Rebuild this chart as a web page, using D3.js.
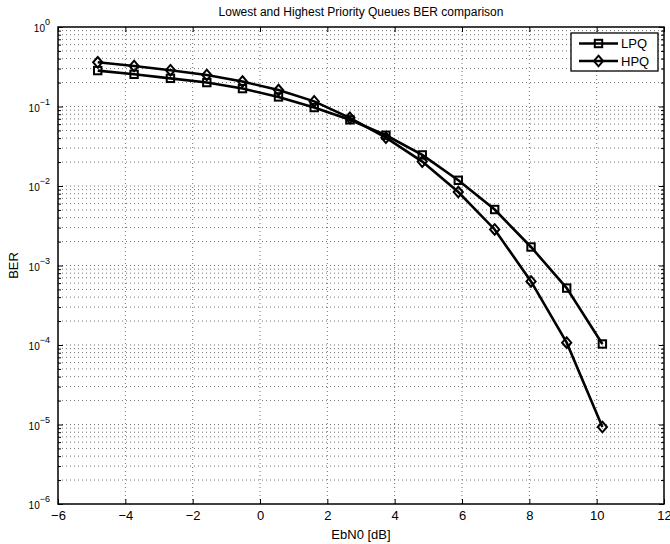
<!DOCTYPE html>
<html>
<head>
<meta charset="utf-8">
<script src="https://cdn.jsdelivr.net/npm/d3@7"></script>
<style>
  body { margin: 0; background: #fff; }
  svg { display: block; font-family: "Liberation Sans", Arial, sans-serif; }
</style>
</head>
<body>
<svg id="chart" width="670" height="544"></svg>
<script>
// EbN0 values (dB)
const ebn0 = [-4.82, -3.74, -2.66, -1.58, -0.52, 0.55, 1.61, 2.67, 3.74, 4.82, 5.89, 6.97, 8.05, 9.11, 10.17];
// BER of the lowest priority queue (squares)
const lpq = [0.283, 0.254, 0.226, 0.200, 0.168, 0.132, 0.097, 0.068, 0.0435, 0.0246, 0.0118, 0.00506, 0.00171, 5.2e-4, 1.03e-4];
// BER of the highest priority queue (diamonds)
const hpq = [0.360, 0.323, 0.286, 0.249, 0.206, 0.161, 0.116, 0.072, 0.0405, 0.0203, 0.0084, 0.00284, 6.3e-4, 1.07e-4, 9.3e-6];

const seriesNames = ["LPQ", "HPQ"];
const xTicks = [-6, -4, -2, 0, 2, 4, 6, 8, 10, 12];
const yDecades = [-6, -5, -4, -3, -2, -1, 0];

const W = 670, H = 544;
const margin = { top: 27, right: 6, bottom: 40, left: 58 };
const svg = d3.select("#chart");

const x = d3.scaleLinear().domain([-6, 12]).range([margin.left, W - margin.right]);
const y = d3.scaleLog().domain([1e-6, 1]).range([H - margin.bottom, margin.top]);

const minorY = [];
yDecades.slice(0, -1).forEach(e => {
    for (let m = 2; m <= 9; m++) minorY.push(m * Math.pow(10, e));
});
const majorY = yDecades.map(e => Math.pow(10, e));

// grid
const grid = svg.append("g")
    .attr("stroke", "#333")
    .attr("stroke-width", 0.7)
    .attr("stroke-dasharray", "1,3");

grid.selectAll(".gx")
    .data(xTicks.slice(1, -1))
    .join("line")
    .attr("x1", d => x(d)).attr("x2", d => x(d))
    .attr("y1", y(1)).attr("y2", y(1e-6));

grid.selectAll(".gy")
    .data(majorY.slice(1, -1).concat(minorY))
    .join("line")
    .attr("y1", d => y(d)).attr("y2", d => y(d))
    .attr("x1", x(-6)).attr("x2", x(12));

// axes with inside ticks
const axes = svg.append("g").attr("font-size", 13);

const bottom = axes.append("g")
    .attr("transform", `translate(0,${y(1e-6)})`)
    .call(d3.axisBottom(x).tickValues(xTicks).tickSize(-5).tickPadding(7)
        .tickFormat(d => d < 0 ? "\u2212" + Math.abs(d) : d));

axes.append("g")
    .attr("transform", `translate(0,${y(1)})`)
    .call(d3.axisTop(x).tickValues(xTicks).tickSize(-5).tickFormat(""));

const left = axes.append("g")
    .attr("transform", `translate(${x(-6)},0)`)
    .call(d3.axisLeft(y).tickValues(majorY).tickSize(-5).tickPadding(14).tickFormat(""));

axes.append("g")
    .attr("transform", `translate(${x(-6)},0)`)
    .call(d3.axisLeft(y).tickValues(minorY).tickSize(-3).tickFormat(""));

axes.append("g")
    .attr("transform", `translate(${x(12)},0)`)
    .call(d3.axisRight(y).tickValues(majorY).tickSize(-5).tickFormat(""));

axes.append("g")
    .attr("transform", `translate(${x(12)},0)`)
    .call(d3.axisRight(y).tickValues(minorY).tickSize(-3).tickFormat(""));

axes.selectAll(".domain").remove();
axes.selectAll(".tick line").attr("stroke", "#000").attr("stroke-width", 1);
bottom.selectAll("text").attr("fill", "#000").attr("font-size", 13);

// y tick labels as 10^n
left.selectAll(".tick text")
    .attr("fill", "#000")
    .attr("x", -8)
    .attr("dy", "0.45em")
    .each(function (d) {
        const t = d3.select(this);
        const e = Math.round(Math.log10(d));
        t.text("");
        t.append("tspan").text("10");
        t.append("tspan").attr("font-size", 9).attr("dy", "-0.75em")
            .text(e < 0 ? "\u2212" + Math.abs(e) : e);
    })
    .attr("text-anchor", "end");

// axis box
svg.append("rect")
    .attr("x", x(-6)).attr("y", y(1))
    .attr("width", x(12) - x(-6)).attr("height", y(1e-6) - y(1))
    .attr("fill", "none").attr("stroke", "#000").attr("stroke-width", 1.5);

// series
const line = d3.line().x(d => x(d[0])).y(d => y(d[1]));
const lpqPts = ebn0.map((v, i) => [v, lpq[i]]);
const hpqPts = ebn0.map((v, i) => [v, hpq[i]]);

function square(g, cx, cy) {
    g.append("rect").attr("x", cx - 3.7).attr("y", cy - 3.7).attr("width", 7.4).attr("height", 7.4);
}
function diamond(g, cx, cy) {
    g.append("path").attr("d", `M${cx},${cy - 5.3}L${cx + 4.6},${cy}L${cx},${cy + 5.3}L${cx - 4.6},${cy}Z`);
}

const plot = svg.append("g")
    .attr("fill", "none").attr("stroke", "#000");

[[lpqPts, square], [hpqPts, diamond]].forEach(([pts, marker]) => {
    plot.append("path").datum(pts).attr("d", line).attr("stroke-width", 2.6);
    const mg = plot.append("g").attr("stroke-width", 2);
    pts.forEach(p => marker(mg, x(p[0]), y(p[1])));
});

// legend
const lg = svg.append("g").attr("transform", "translate(571,33)");
lg.append("rect").attr("width", 87).attr("height", 38)
    .attr("fill", "#fff").attr("stroke", "#000").attr("stroke-width", 1.3);
[square, diamond].forEach((marker, i) => {
    const cy = 10.5 + i * 17.5;
    lg.append("line").attr("x1", 8).attr("x2", 47).attr("y1", cy).attr("y2", cy)
        .attr("stroke", "#000").attr("stroke-width", 2.6);
    const mg = lg.append("g").attr("fill", "none").attr("stroke", "#000").attr("stroke-width", 2);
    marker(mg, 27.5, cy);
    lg.append("text").attr("x", 50).attr("y", cy + 4.5)
        .attr("font-size", 13).text(seriesNames[i]);
});

// titles
svg.append("text").attr("x", (x(-6) + x(12)) / 2).attr("y", 16)
    .attr("text-anchor", "middle").attr("font-size", 12)
    .text("Lowest and Highest Priority Queues BER comparison");

svg.append("text").attr("x", (x(-6) + x(12)) / 2).attr("y", 539)
    .attr("text-anchor", "middle").attr("font-size", 13)
    .text("EbN0 [dB]");

svg.append("text")
    .attr("transform", `translate(18,${(y(1) + y(1e-6)) / 2}) rotate(-90)`)
    .attr("text-anchor", "middle").attr("font-size", 13)
    .text("BER");
</script>
</body>
</html>
